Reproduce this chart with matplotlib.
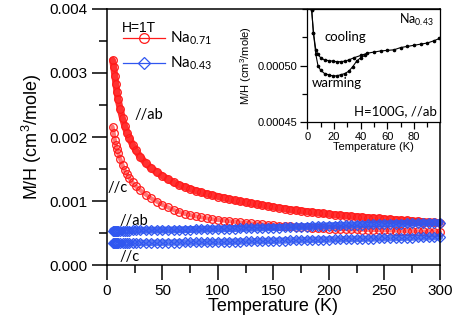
import matplotlib

matplotlib.use("Agg")
import matplotlib.pyplot as plt
from matplotlib.lines import Line2D
from matplotlib.ticker import FormatStrFormatter, MultipleLocator, FixedLocator

plt.rcParams["font.family"] = ["Liberation Sans", "DejaVu Sans"]
plt.rcParams["mathtext.default"] = "regular"

# temperature grid shared by the four 1 T curves (K)
temps = [5, 6, 7, 8, 9, 10, 12, 14, 16, 18, 20, 23, 26, 30, 35, 40, 45,
         50, 55, 60, 65, 70, 75, 80, 85, 90, 95, 100, 105, 110, 115, 120,
         125, 130, 135, 140, 145, 150, 155, 160, 165, 170, 175, 180, 185,
         190, 195, 200, 205, 210, 215, 220, 225, 230, 235, 240, 245, 250,
         255, 260, 265, 270, 275, 280, 285, 290, 295, 300]

# M/H in units of 1e-4 cm^3/mole
na71_ab = [32.0, 31.0, 29.6, 28.3, 27.0, 25.9, 24.3, 22.9, 21.7, 20.7, 19.9,
           18.8, 17.9, 16.9, 15.9, 15.1, 14.5, 13.9, 13.4, 12.9, 12.5, 12.2,
           11.9, 11.6, 11.35, 11.1, 10.9, 10.7, 10.5, 10.3, 10.1, 9.95, 9.8,
           9.65, 9.5, 9.35, 9.2, 9.05, 8.9, 8.8, 8.65, 8.55, 8.45, 8.35, 8.25,
           8.15, 8.05, 7.95, 7.85, 7.78, 7.7, 7.62, 7.55, 7.48, 7.4, 7.34,
           7.28, 7.2, 7.14, 7.08, 7.02, 6.96, 6.9, 6.84, 6.78, 6.72, 6.66, 6.6]
na71_c = [21.6, 20.6, 19.6, 18.8, 18.1, 17.5, 16.5, 15.6, 14.8, 14.2, 13.6,
          12.9, 12.3, 11.7, 11.0, 10.4, 9.9, 9.4, 9.0, 8.6, 8.3, 8.0, 7.8,
          7.6, 7.45, 7.3, 7.15, 7.05, 6.95, 6.85, 6.75, 6.65, 6.6, 6.5, 6.45,
          6.35, 6.3, 6.25, 6.15, 6.1, 6.05, 6.0, 5.95, 5.9, 5.85, 5.8, 5.75,
          5.7, 5.65, 5.62, 5.6, 5.57, 5.55, 5.52, 5.5, 5.47, 5.45, 5.42, 5.4,
          5.37, 5.35, 5.32, 5.3, 5.27, 5.25, 5.22, 5.2, 5.18]
na43_ab = [5.38, 5.37, 5.36, 5.36, 5.36, 5.36, 5.37, 5.37, 5.38, 5.38, 5.39,
           5.4, 5.41, 5.42, 5.43, 5.44, 5.45, 5.46, 5.47, 5.48, 5.5, 5.52,
           5.54, 5.56, 5.58, 5.6, 5.62, 5.64, 5.66, 5.68, 5.7, 5.72, 5.74,
           5.76, 5.78, 5.8, 5.82, 5.84, 5.86, 5.89, 5.92, 5.95, 5.98, 6.01,
           6.04, 6.07, 6.1, 6.13, 6.16, 6.19, 6.22, 6.25, 6.28, 6.31, 6.34,
           6.37, 6.4, 6.42, 6.44, 6.46, 6.48, 6.5, 6.52, 6.54, 6.56, 6.58,
           6.6, 6.62]
na43_c = [3.42, 3.41, 3.4, 3.4, 3.4, 3.4, 3.4, 3.41, 3.41, 3.42, 3.42, 3.43,
          3.43, 3.44, 3.45, 3.46, 3.47, 3.48, 3.49, 3.5, 3.51, 3.52, 3.53,
          3.54, 3.55, 3.56, 3.57, 3.58, 3.6, 3.62, 3.64, 3.66, 3.68, 3.7,
          3.72, 3.74, 3.76, 3.78, 3.8, 3.82, 3.84, 3.86, 3.88, 3.9, 3.92,
          3.94, 3.96, 3.98, 4.0, 4.02, 4.04, 4.06, 4.08, 4.1, 4.12, 4.14,
          4.16, 4.18, 4.2, 4.22, 4.24, 4.26, 4.28, 4.3, 4.32, 4.34, 4.36, 4.38]

# inset: Na0.43, H=100G, //ab (M/H in units of 1e-4 cm^3/mole)
cool_t = [3.3, 4.6, 6.4, 8, 10, 13, 16, 19, 22, 25, 28, 31, 35, 40, 45, 50,
          55, 60, 65, 70, 75, 80, 85, 90, 95, 99]
cool_m = [5.49, 5.29, 5.14, 5.10, 5.07, 5.05, 5.045, 5.04, 5.035, 5.035,
          5.04, 5.05, 5.07, 5.09, 5.11, 5.12, 5.13, 5.135, 5.14, 5.16, 5.17,
          5.18, 5.19, 5.20, 5.22, 5.24]
warm_t = [3.3, 4.6, 6.4, 8, 10, 13, 16, 19, 22, 25, 28, 31, 34, 37, 40, 43]
warm_m = [5.49, 5.29, 5.10, 5.00, 4.96, 4.93, 4.92, 4.91, 4.91, 4.92, 4.93,
          4.95, 4.99, 5.04, 5.07, 5.09]

RED = "#ff1a1a"
BLUE = "#3057f0"
TXT = ["Lato", "DejaVu Sans"]


def scale(vals):
    return [v * 1e-4 for v in vals]


fig = plt.figure(figsize=(4.56, 3.26), dpi=100)
ax = fig.add_axes([0.2346, 0.1871, 0.7303, 0.7853])

# dense measurement points: a band of open markers along a thick trace
series = [
    (na71_ab, RED, "o", 5.5, 5.0, 0.9),
    (na71_c, RED, "o", 5.5, 3.0, 0.6),
    (na43_ab, BLUE, "D", 4.8, 5.0, 0.9),
    (na43_c, BLUE, "D", 4.8, 4.6, 0.8),
]
for vals, col, mk, ms, lw, alpha in series:
    ax.plot(temps, scale(vals), color=col, lw=lw, alpha=alpha,
            solid_capstyle="round", clip_on=False)
    ax.plot(temps, scale(vals), ls="none", marker=mk, ms=ms, mfc="none",
            mec=col, mew=0.9, clip_on=False)

ax.set_xlim(0, 300)
ax.set_ylim(0, 0.004)
ax.xaxis.set_major_locator(MultipleLocator(50))
ax.xaxis.set_minor_locator(MultipleLocator(25))
ax.yaxis.set_major_locator(MultipleLocator(0.001))
ax.yaxis.set_minor_locator(MultipleLocator(0.0005))
ax.yaxis.set_major_formatter(FormatStrFormatter("%.3f"))
ax.tick_params(which="both", direction="out", width=1.1, labelsize=11,
               top=False, right=False)
ax.tick_params(which="major", length=11, pad=3)
ax.tick_params(which="minor", length=5.5)
for s in ax.spines.values():
    s.set_linewidth(1.1)
ax.set_xlabel("Temperature (K)", fontsize=13, labelpad=0)
ax.set_ylabel("M/H (cm$^3$/mole)", fontsize=13, labelpad=4)

ax.text(25, 0.00234, "//ab", fontsize=10.5, family=TXT, va="center")
ax.text(0.5, 0.00121, "//c", fontsize=10.5, family=TXT, va="center")
ax.text(11, 0.00069, "//ab", fontsize=10.5, family=TXT, va="center")
ax.text(11, 0.00012, "//c", fontsize=10.5, family=TXT, va="center")

ax.text(0.045, 0.925, "H=1T", transform=ax.transAxes, fontsize=10,
        va="center")
handles = [
    Line2D([], [], color=RED, lw=0.9, marker="o", ms=7, mfc="none", mew=0.9),
    Line2D([], [], color=BLUE, lw=0.9, marker="D", ms=6, mfc="none", mew=0.9),
]
ax.legend(handles, ["Na$_{0.71}$", "Na$_{0.43}$"], loc="upper left",
          bbox_to_anchor=(0.015, 0.96), frameon=False,
          prop={"family": TXT, "size": 11}, handlelength=2.8,
          labelspacing=0.5, handletextpad=0.3, borderpad=0.2)

# inset
ins = fig.add_axes([0.6739, 0.6248, 0.2910, 0.3475])
ins.plot(cool_t, scale(cool_m), color="black", lw=0.8, marker="o", ms=1.6)
ins.plot(warm_t, scale(warm_m), color="black", lw=0.8, marker="o", ms=1.6)
ins.set_xlim(0, 99.5)
ins.set_ylim(0.00045, 0.00055)
ins.xaxis.set_major_locator(MultipleLocator(20))
ins.xaxis.set_minor_locator(MultipleLocator(10))
ins.yaxis.set_major_locator(FixedLocator([0.00045, 0.0005]))
ins.yaxis.set_minor_locator(FixedLocator([0.000475, 0.000525, 0.00055]))
ins.yaxis.set_major_formatter(FormatStrFormatter("%.5f"))
ins.tick_params(which="both", direction="out", width=0.9, labelsize=8,
                top=False, right=False)
ins.tick_params(which="major", length=5, pad=2)
ins.tick_params(which="minor", length=3.5)
for s in ins.spines.values():
    s.set_linewidth(0.9)
ins.set_xlabel("Temperature (K)", fontsize=8, labelpad=0)
ins.set_ylabel("M/H (cm$^3$/mole)", fontsize=8, labelpad=3)
ins.text(0.95, 0.87, "Na$_{0.43}$", transform=ins.transAxes, ha="right",
         fontsize=9, family=TXT)
ins.text(13, 0.000525, "cooling", fontsize=9.5, family=TXT, va="center")
ins.text(3.5, 0.000485, "warming", fontsize=9.5, family=TXT, va="center")
ins.text(0.98, 0.1, "H=100G, //ab", transform=ins.transAxes, ha="right",
         va="center", fontsize=9.5, family=TXT)

fig.savefig("out.png", dpi=100)
